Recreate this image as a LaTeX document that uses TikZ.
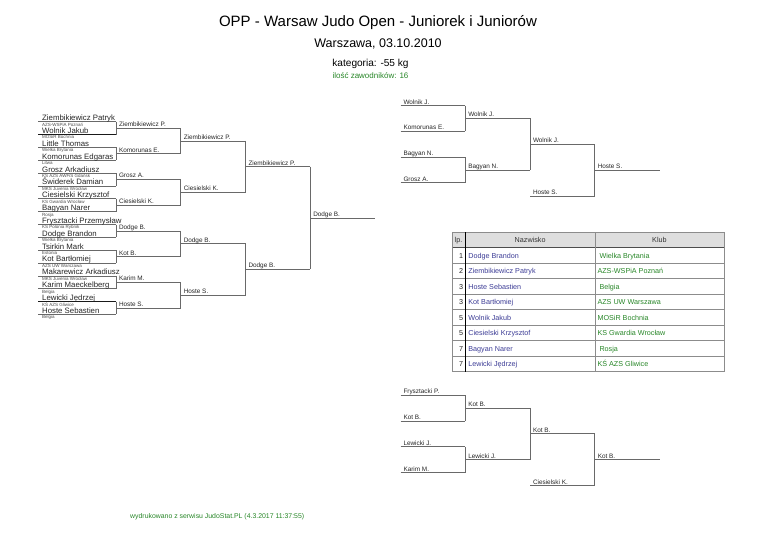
\documentclass[tikz,border=0pt]{standalone}
\usepackage{fontspec}
\setmainfont{Liberation Sans}
\definecolor{lncol}{RGB}{105,105,105}
\definecolor{tgreen}{RGB}{40,135,40}
\definecolor{tblue}{RGB}{60,60,150}
\tikzset{
  brk/.style={draw=lncol, line width=0.8pt},
  brkdark/.style={draw=black!90, line width=1.1pt},
  cname/.style={anchor=base west, inner sep=0pt, font=\fontsize{7.8}{8}\selectfont, text=black!85},
  cclub/.style={anchor=base west, inner sep=0pt, font=\fontsize{4.5}{5}\selectfont, text=black!70},
  rlab/.style={anchor=base west, inner sep=0pt, font=\fontsize{6.4}{7}\selectfont, text=black!85},
  tcell/.style={inner sep=0pt, font=\fontsize{7.2}{8}\selectfont},
  tline/.style={draw=black!45, line width=0.7pt},
}
\newcommand\bkt[6]{%
  \coordinate (#1t) at (#2,#4);
  \coordinate (#1b) at (#2,#5);
  \coordinate (#1m) at (#2,{(#4+#5)/2});
  \coordinate (#1e) at (#3,{(#4+#5)/2});
  \draw[brk] (#1t) -- (#1b);
  \draw[brk] (#1m) -- (#1e);
  \node[rlab] (#1l) at ([shift={(2.8,-1.6)}]#1m) {#6};
}
\begin{document}
\begin{tikzpicture}[x=1pt,y=-1pt]
\fill[white] (0,0) rectangle (768,543);
\useasboundingbox (0,0) rectangle (768,543);

% header
\node[anchor=base, inner sep=0pt, font=\fontsize{15}{17}\selectfont] (title) at (378,27) {OPP - Warsaw Judo Open - Juniorek i Juniorów};
\node[anchor=base, inner sep=0pt, font=\fontsize{12.5}{14}\selectfont] (place) at (378,48) {Warszawa, 03.10.2010};
\node[anchor=base, inner sep=0pt, font=\fontsize{10.1}{12}\selectfont] (cat) at (370.5,66.5) {kategoria: -55 kg};
\node[anchor=base, inner sep=0pt, font=\fontsize{8}{9}\selectfont, text=tgreen] (cnt) at (370.5,78) {ilość zawodników: 16};

% main bracket, first column
\foreach \n/\c [count=\i from 0] in {Ziembikiewicz Patryk/AZS-WSPiA Poznań, Wolnik Jakub/MOSiR Bochnia, Little Thomas/Wielka Brytania, Komorunas Edgaras/Litwa, Grosz Arkadiusz/KS AZS AWFiS Gdańsk, Świderek Damian/MKS Juvenia Wrocław, Ciesielski Krzysztof/KS Gwardia Wrocław, Bagyan Narer/Rosja, Frysztacki Przemysław/KS Polonia Rybnik, Dodge Brandon/Wielka Brytania, Tsirkin Mark/Estonia, Kot Bartłomiej/AZS UW Warszawa, Makarewicz Arkadiusz/MKS Juvenia Wrocław, Karim Maeckelberg/Belgia, Lewicki Jędrzej/KŚ AZS Gliwice, Hoste Sebastien/Belgia} {
  \pgfmathsetmacro\yy{121.7+12.85*\i}
  \coordinate (p\i a) at (38,\yy);
  \coordinate (p\i b) at (116,\yy);
  \draw[brk] (p\i a) -- (p\i b);
  \node[cname] (pn\i) at (42,\yy-1.1) {\n};
  \node[cclub] (pc\i) at (42,\yy+4.4) {\c};
}
\draw[brkdark] (p1a) -- (p1b);
\draw[brkdark] (p14a) -- (p14b);

\bkt{a0}{116}{180.75}{121.7}{134.55}{Ziembikiewicz P.}
\bkt{a1}{116}{180.75}{147.4}{160.25}{Komorunas E.}
\bkt{a2}{116}{180.75}{173.1}{185.95}{Grosz A.}
\bkt{a3}{116}{180.75}{198.8}{211.65}{Ciesielski K.}
\bkt{a4}{116}{180.75}{224.5}{237.35}{Dodge B.}
\bkt{a5}{116}{180.75}{250.2}{263.05}{Kot B.}
\bkt{a6}{116}{180.75}{275.9}{288.75}{Karim M.}
\bkt{a7}{116}{180.75}{301.6}{314.45}{Hoste S.}
\bkt{b0}{180.75}{245.5}{128.125}{153.825}{Ziembikiewicz P.}
\bkt{b1}{180.75}{245.5}{179.525}{205.225}{Ciesielski K.}
\bkt{b2}{180.75}{245.5}{230.925}{256.625}{Dodge B.}
\bkt{b3}{180.75}{245.5}{282.325}{308.025}{Hoste S.}
\bkt{c0}{245.5}{310.25}{140.975}{192.375}{Ziembikiewicz P.}
\bkt{c1}{245.5}{310.25}{243.775}{295.175}{Dodge B.}
\bkt{d0}{310.25}{375}{166.675}{269.475}{Dodge B.}

% right bracket
\foreach \n/\yy [count=\i from 0] in {Wolnik J./105.6, Komorunas E./131.35, Bagyan N./157.1, Grosz A./182.85} {
  \coordinate (q\i a) at (400.5,\yy);
  \coordinate (q\i b) at (465.25,\yy);
  \draw[brk] (q\i a) -- (q\i b);
  \node[rlab] (qn\i) at (403.3,\yy-1.6) {\n};
}
\bkt{f0}{465.25}{530}{105.6}{131.35}{Wolnik J.}
\bkt{f1}{465.25}{530}{157.1}{182.85}{Bagyan N.}
\bkt{g0}{530}{594.75}{118.475}{169.975}{Wolnik J.}
\coordinate (hsa) at (530,196);
\coordinate (hsb) at (594.75,196);
\draw[brk] (hsa) -- (hsb);
\node[rlab] (hsn) at (532.8,194.4) {Hoste S.};
\bkt{h0}{594.75}{659.5}{144.225}{196}{Hoste S.}

% repechage
\foreach \n/\yy [count=\i from 0] in {Frysztacki P./395, Kot B./420.9, Lewicki J./446.8, Karim M./472.7} {
  \coordinate (w\i a) at (400.5,\yy);
  \coordinate (w\i b) at (465.25,\yy);
  \draw[brk] (w\i a) -- (w\i b);
  \node[rlab] (wn\i) at (403.3,\yy-1.6) {\n};
}
\bkt{r0}{465.25}{530}{395}{420.9}{Kot B.}
\bkt{r1}{465.25}{530}{446.8}{472.7}{Lewicki J.}
\bkt{s0}{530}{594.75}{407.95}{459.75}{Kot B.}
\coordinate (cka) at (530,485.6);
\coordinate (ckb) at (594.75,485.6);
\draw[brk] (cka) -- (ckb);
\node[rlab] (ckn) at (532.8,484) {Ciesielski K.};
\bkt{t0}{594.75}{659.5}{433.85}{485.6}{Kot B.}

% results table
\fill[black!13] (452.5,232.3) rectangle (724,247.7);
\foreach \i in {0,...,7} {
  \pgfmathsetmacro\yb{247.7+15.5*(\i+1)}
  \draw[tline] (452.5,\yb) -- (724,\yb);
}
\draw[tline] (452.5,232.3) rectangle (724,371.7);
\draw[draw=black!70, line width=0.8pt] (452.5,247.7) -- (724,247.7);
\draw[tline] (594.9,232.3) -- (594.9,371.7);
\draw[draw=black, line width=1pt] (465.3,232.3) -- (465.3,371.7);
\node[tcell, anchor=base west, text=black!80] (hlp) at (454.5,242.6) {lp.};
\node[tcell, anchor=base, text=black!80] (hnaz) at (530.1,242.6) {Nazwisko};
\node[tcell, anchor=base, text=black!80] (hklub) at (659.4,242.6) {Klub};
\foreach \p/\n/\c/\dx [count=\i from 0] in {1/Dodge Brandon/Wielka Brytania/2, 2/Ziembikiewicz Patryk/AZS-WSPiA Poznań/0, 3/Hoste Sebastien/Belgia/2, 3/Kot Bartłomiej/AZS UW Warszawa/0, 5/Wolnik Jakub/MOSiR Bochnia/0, 5/Ciesielski Krzysztof/KS Gwardia Wrocław/0, 7/Bagyan Narer/Rosja/2, 7/Lewicki Jędrzej/KŚ AZS Gliwice/0} {
  \pgfmathsetmacro\yc{247.7+15.5*(\i+0.5)+2.6}
  \node[tcell, anchor=base east, text=black!85] (tp\i) at (463.4,\yc) {\p};
  \node[tcell, anchor=base west, text=tblue] (tn\i) at (468.2,\yc) {\n};
  \node[tcell, anchor=base west, text=tgreen] (tc\i) at (597.3+\dx,\yc) {\c};
}

% footer
\node[anchor=base west, inner sep=0pt, font=\fontsize{6.9}{8}\selectfont, text=tgreen] (foot) at (130,518.5) {wydrukowano z serwisu JudoStat.PL (4.3.2017 11:37:55)};
\end{tikzpicture}
\end{document}
